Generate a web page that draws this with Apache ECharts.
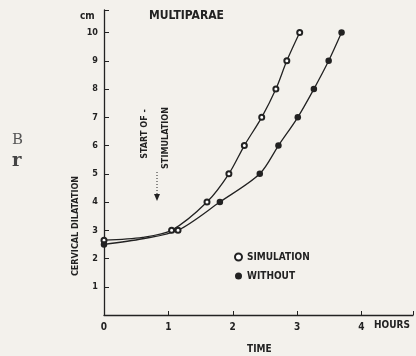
<!DOCTYPE html>
<html>
<head>
<meta charset="utf-8">
<script src="https://cdn.jsdelivr.net/npm/echarts@6/dist/echarts.min.js"></script>
<style>
  html, body {margin: 0; padding: 0; background: #f3f1ec;}
  #chart {width: 416px; height: 356px;}
</style>
</head>
<body>
<div id="chart"></div>
<script>
// cervical dilatation, multiparae
const simTime = [0, 0.6, 1.05, 1.6, 1.94, 2.18, 2.45, 2.67, 2.84, 3.04]
const simDilation = [2.65, 2.75, 3, 4, 5, 6, 7, 8, 9, 10]
const withoutTime = [0, 0.6, 1.15, 1.8, 2.42, 2.71, 3.01, 3.26, 3.49, 3.69]
const withoutDilation = [2.5, 2.7, 3, 4, 5, 6, 7, 8, 9, 10]
const xTicks = [0, 1, 2, 3, 4]
const yTicks = [1, 2, 3, 4, 5, 6, 7, 8, 9, 10]

const ink = '#222'
const paper = '#f3f1ec'
const font = '"DejaVu Sans Condensed", "Liberation Sans Narrow", sans-serif'

// the 0.6 h points only shape the curve, no marker there
const hidden = [1]
const toData = (ts, ys, openAt) => ts.map((t, i) => {
  const d = {value: [t, ys[i]]}
  if (hidden.includes(i)) d.symbol = 'none'
  if (openAt === i) {
    d.symbol = 'emptyCircle'
    d.symbolSize = 5
    d.itemStyle = {borderWidth: 1.2}
  }
  return d
})

const chart = echarts.init(document.getElementById('chart'))
chart.setOption({
  backgroundColor: paper,
  animation: false,
  grid: {left: 104, right: 2, top: 10, bottom: 41},
  xAxis: {
    type: 'value', min: 0, max: 4.8, interval: 1,
    axisLine: {lineStyle: {color: ink, width: 1.3}},
    axisTick: {inside: true, length: 4, lineStyle: {color: ink}},
    splitLine: {show: false},
    axisLabel: {
      color: ink, fontFamily: font, fontSize: 10, fontWeight: 'bold', margin: 7,
      formatter: v => xTicks.includes(v) ? String(v) : ''
    }
  },
  yAxis: {
    type: 'value', min: 0, max: 10.8, interval: 1,
    axisLine: {show: true, lineStyle: {color: ink, width: 1.3}},
    axisTick: {show: true, inside: true, length: 5, lineStyle: {color: ink}},
    splitLine: {show: false},
    axisLabel: {
      color: ink, fontFamily: font, fontSize: 9, fontWeight: 'bold', margin: 6,
      formatter: v => yTicks.includes(v) ? String(v) : ''
    }
  },
  legend: {
    orient: 'vertical', left: 229, top: 247, itemGap: 9,
    itemWidth: 7, itemHeight: 7,
    textStyle: {color: ink, fontFamily: font, fontSize: 10, fontWeight: 'bold'},
    data: [
      {name: 'SIMULATION', icon: 'emptyCircle'},
      {name: 'WITHOUT', icon: 'circle'}
    ]
  },
  series: [
    {
      name: 'SIMULATION', type: 'line', smooth: 0.3,
      symbol: 'emptyCircle', symbolSize: 5,
      lineStyle: {color: ink, width: 1.3},
      itemStyle: {color: ink, borderWidth: 1.2},
      data: toData(simTime, simDilation)
    },
    {
      name: 'WITHOUT', type: 'line', smooth: 0.3,
      symbol: 'circle', symbolSize: 6.5,
      lineStyle: {color: ink, width: 1.3},
      itemStyle: {color: ink, borderWidth: 0},
      data: toData(withoutTime, withoutDilation, 2)
    }
  ],
  graphic: [
    {type: 'text', left: 80, top: 11, style: {text: 'cm', fill: ink, font: 'bold 10px ' + font}},
    {type: 'text', left: 149, top: 10, style: {text: 'MULTIPARAE', fill: ink, font: 'bold 12px ' + font}},
    {type: 'text', left: 374, top: 320, style: {text: 'HOURS', fill: ink, font: 'bold 10px ' + font}},
    {type: 'text', left: 247, top: 344, style: {text: 'TIME', fill: ink, font: 'bold 10px ' + font}},
    {type: 'text', x: 76, y: 226, rotation: Math.PI / 2,
      style: {text: 'CERVICAL DILATATION', fill: ink, font: 'bold 9px ' + font, align: 'center', verticalAlign: 'middle'}},
    {type: 'text', x: 145, y: 134, rotation: Math.PI / 2,
      style: {text: 'START OF -', fill: ink, font: 'bold 9px ' + font, align: 'center', verticalAlign: 'middle'}},
    {type: 'text', x: 166, y: 138, rotation: Math.PI / 2,
      style: {text: 'STIMULATION', fill: ink, font: 'bold 9px ' + font, align: 'center', verticalAlign: 'middle'}},
    {type: 'line', shape: {x1: 157, y1: 172, x2: 157, y2: 195},
      style: {stroke: ink, lineWidth: 1, lineDash: [1, 2]}},
    {type: 'polygon', shape: {points: [[154, 194], [160, 194], [157, 201]]}, style: {fill: ink}},
    {type: 'text', left: 12, top: 133, style: {text: 'B', fill: '#555', font: '15px "DejaVu Serif", serif'}},
    {type: 'text', left: 12, top: 152, style: {text: 'r', fill: '#444', font: 'bold 18px "DejaVu Serif", serif'}}
  ]
})
</script>
</body>
</html>
